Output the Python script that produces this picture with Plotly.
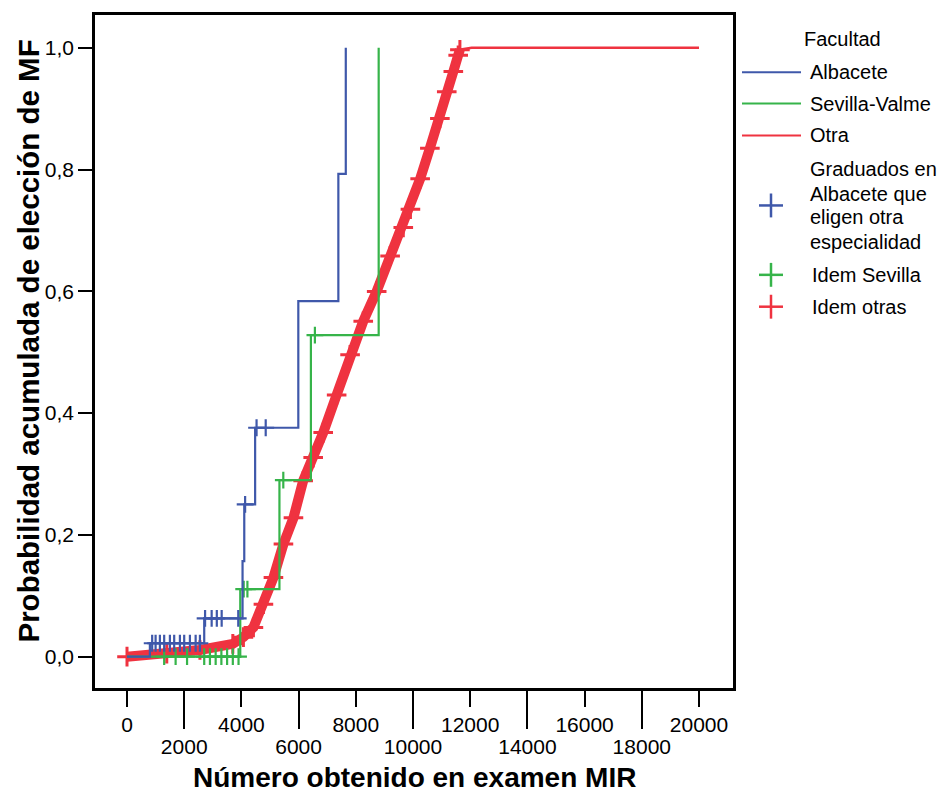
import plotly.graph_objects as go

# Albacete: curva escalonada y casos censurados
alb_x = [0, 800, 2700, 4040, 4100, 4480, 5990, 7390, 7650]
alb_y = [0, 0.022, 0.063, 0.157, 0.25, 0.376, 0.584, 0.793, 1.0]
alb_cens_x = [880, 1000, 1150, 1300, 1500, 1650, 1850, 2000, 2200, 2400, 2550,
              2730, 2960, 3140, 3310, 3890, 4130, 4530, 4850]
alb_cens_y = [0.022, 0.022, 0.022, 0.022, 0.022, 0.022, 0.022, 0.022, 0.022, 0.022, 0.022,
              0.063, 0.063, 0.063, 0.063, 0.063, 0.25, 0.376, 0.376]

# Sevilla-Valme
sev_x = [0, 3960, 5330, 6430, 8800]
sev_y = [0, 0.111, 0.29, 0.528, 1.0]
sev_cens_x = [1300, 1700, 2100, 2700, 2900, 3100, 3300, 3500, 3700, 3900,
              4080, 4210, 5465, 6570]
sev_cens_y = [0, 0, 0, 0, 0, 0, 0, 0, 0, 0, 0.111, 0.111, 0.29, 0.528]

# Otra
otra_x = [0, 1390, 2550, 3700, 4070, 4420, 4770, 5120, 5470, 5820, 6160, 6510, 6860,
          7330, 7800, 8260, 8730, 9200, 9660, 9910, 10250, 10590, 10940, 11180,
          11410, 11580, 11640, 12050, 20000]
otra_y = [0, 0.005, 0.011, 0.021, 0.032, 0.048, 0.086, 0.13, 0.185, 0.228, 0.289,
          0.327, 0.368, 0.43, 0.496, 0.551, 0.6, 0.658, 0.705, 0.735, 0.785, 0.835,
          0.884, 0.928, 0.961, 0.988, 0.997, 1.0, 1.0]

x_ticks_top = [0, 4000, 8000, 12000, 16000, 20000]
x_ticks_low = [2000, 6000, 10000, 14000, 18000]
y_ticks = [0, 0.2, 0.4, 0.6, 0.8, 1.0]
y_labels = ["0,0", "0,2", "0,4", "0,6", "0,8", "1,0"]

BLUE = "#3f58aa"
GREEN = "#36b44a"
RED = "#ef3340"

# la página deja 8px de margen alrededor de la figura
OFF = 8
W, H = 946 - OFF, 795 - OFF
L, T = 95 - OFF, 12 - OFF
R, B = W - (733 - OFF), H - (688 - OFF)
PW, PH = W - L - R, H - T - B


def px(x):
    return (x - OFF - L) / PW


def py(y):
    return (H - B - (y - OFF)) / PH


fig = go.Figure()

# banda de censurados de "Otra" (muy densos)
fig.add_trace(go.Scatter(
    x=otra_x[:-2], y=otra_y[:-2], mode="lines+markers",
    line=dict(color=RED, width=10),
    marker=dict(symbol="cross-thin", size=14, line=dict(color=RED, width=3)),
))
fig.add_trace(go.Scatter(x=otra_x, y=otra_y, mode="lines",
                         line=dict(color=RED, width=2.5)))

fig.add_trace(go.Scatter(x=sev_x, y=sev_y, mode="lines", line_shape="hv",
                         line=dict(color=GREEN, width=2.2)))
fig.add_trace(go.Scatter(
    x=sev_cens_x, y=sev_cens_y, mode="markers",
    marker=dict(symbol="cross-thin", size=12, line=dict(color=GREEN, width=2.2)),
))

fig.add_trace(go.Scatter(x=alb_x, y=alb_y, mode="lines", line_shape="hv",
                         line=dict(color=BLUE, width=2.2)))
fig.add_trace(go.Scatter(
    x=alb_cens_x, y=alb_cens_y, mode="markers",
    marker=dict(symbol="cross-thin", size=12, line=dict(color=BLUE, width=2.2)),
))

# eje auxiliar para las etiquetas de la fila inferior
fig.add_trace(go.Scatter(x=[], y=[], xaxis="x2", mode="lines"))

xrange = [-1119, 21189]
fig.update_layout(
    width=W, height=H,
    margin=dict(l=L, r=R, t=T, b=B),
    plot_bgcolor="white", paper_bgcolor="white",
    showlegend=False,
    font=dict(family="Liberation Sans, Arial", color="black", size=21),
    xaxis=dict(
        range=xrange, tickvals=x_ticks_top, ticktext=[str(v) for v in x_ticks_top],
        ticks="outside", ticklen=16, tickwidth=2, tickcolor="black",
        showline=True, linewidth=2.5, linecolor="black", mirror=True,
        showgrid=False, zeroline=False, tickfont=dict(size=21),
    ),
    xaxis2=dict(
        range=xrange, overlaying="x", anchor="y", side="bottom",
        tickvals=x_ticks_low, ticktext=[str(v) for v in x_ticks_low],
        ticks="outside", ticklen=40, tickwidth=2, tickcolor="black",
        showline=False, showgrid=False, zeroline=False, tickfont=dict(size=21),
    ),
    yaxis=dict(
        range=[-0.0515, 1.054], tickvals=y_ticks, ticktext=y_labels,
        ticks="outside", ticklen=14, tickwidth=2, tickcolor="black",
        showline=True, linewidth=2.5, linecolor="black", mirror=True,
        showgrid=False, zeroline=False, tickfont=dict(size=21),
    ),
)

LEG_FONT = 20

ann = [
    dict(text="<b>Número obtenido en examen MIR</b>", x=0.5, y=py(778),
         xref="paper", yref="paper", showarrow=False, font=dict(size=28),
         xanchor="center", yanchor="middle"),
    dict(text="<b>Probabilidad acumulada de elección de MF</b>", x=px(29), y=py(340),
         xref="paper", yref="paper", showarrow=False, font=dict(size=29.5),
         textangle=-90, xanchor="center", yanchor="middle"),
    dict(text="Facultad", x=px(842), y=py(36), xref="paper", yref="paper",
         showarrow=False, font=dict(size=LEG_FONT), xanchor="center", yanchor="middle"),
]
shapes = []

legend_lines = [("Albacete", BLUE, 69.5), ("Sevilla-Valme", GREEN, 101), ("Otra", RED, 133)]
for name, col, yy in legend_lines:
    shapes.append(dict(type="line", xref="paper", yref="paper",
                       x0=px(742), x1=px(801), y0=py(yy), y1=py(yy),
                       line=dict(color=col, width=2)))
    ann.append(dict(text=name, x=px(808), y=py(yy), xref="paper", yref="paper",
                    showarrow=False, font=dict(size=LEG_FONT), xanchor="left",
                    yanchor="middle"))

grad_lines = [("Graduados en", 166.7), ("Albacete que", 191.5), ("eligen otra", 214.5),
              ("especialidad", 240)]
for txt, yy in grad_lines:
    ann.append(dict(text=txt, x=px(808), y=py(yy), xref="paper", yref="paper",
                    showarrow=False, font=dict(size=LEG_FONT), xanchor="left",
                    yanchor="middle"))

legend_marks = [(None, BLUE, 203.3), ("Idem Sevilla", GREEN, 273), ("Idem otras", RED, 305)]
for name, col, yy in legend_marks:
    cx = 771
    shapes.append(dict(type="line", xref="paper", yref="paper",
                       x0=px(cx - 12), x1=px(cx + 12), y0=py(yy), y1=py(yy),
                       line=dict(color=col, width=2.5)))
    shapes.append(dict(type="line", xref="paper", yref="paper",
                       x0=px(cx), x1=px(cx), y0=py(yy - 12), y1=py(yy + 12),
                       line=dict(color=col, width=2.5)))
    if name:
        ann.append(dict(text=name, x=px(810), y=py(yy), xref="paper", yref="paper",
                        showarrow=False, font=dict(size=LEG_FONT), xanchor="left",
                        yanchor="middle"))

fig.update_layout(annotations=ann, shapes=shapes)

fig.write_html("out.html")
